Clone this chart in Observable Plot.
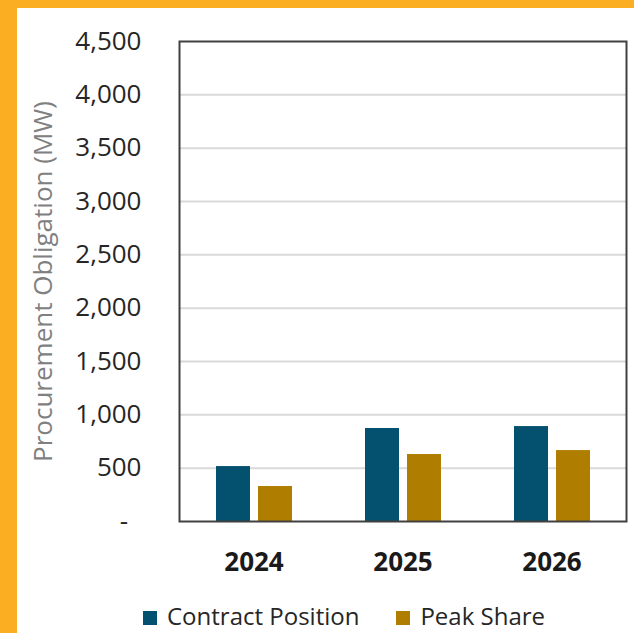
<!DOCTYPE html>
<html>
<head>
<meta charset="utf-8">
<script src="https://cdn.jsdelivr.net/npm/d3@7"></script>
<script src="https://cdn.jsdelivr.net/npm/@observablehq/plot@0.6"></script>
<style>
  html, body { margin: 0; padding: 0; background: #fff; }
  #wrap {
    width: 617px; height: 625px;
    border-top: 8px solid #FBAE22; border-left: 17px solid #FBAE22;
    background: #fff; position: relative; overflow: hidden;
    font-family: "Open Sans", sans-serif;
  }
  #chart svg { display: block; }
  g[aria-label="y-axis label"] text { fill: #808080; font-size: 26px; }
  #legend {
    position: absolute; top: 596px; left: 126px; line-height: 1;
    display: flex; align-items: center; font-size: 24px; color: #262626;
  }
  .item { display: flex; align-items: center; margin-right: 37px; }
  .sw { width: 14px; height: 14px; margin-right: 10px; margin-top: 3px; }
</style>
</head>
<body>
<div id="wrap"><div id="chart"></div><div id="legend"></div></div>
<script>
const years = ["2024", "2025", "2026"];
const series = ["Contract Position", "Peak Share"];
const contractPosition = [515, 872, 890];
const peakShare = [328, 628, 665];
const yTicks = [0, 500, 1000, 1500, 2000, 2500, 3000, 3500, 4000, 4500];
const colors = ["#03506F", "#AF7E00"];

const data = years.flatMap((yr, i) => [
  {year: yr, series: series[0], value: contractPosition[i]},
  {year: yr, series: series[1], value: peakShare[i]}
]);

const fmt = d3.format(",");
const plot = Plot.plot({
  width: 617, height: 590,
  marginLeft: 161, marginRight: 7, marginTop: 33, marginBottom: 77,
  style: {fontFamily: "'Open Sans', sans-serif", fontSize: "24px", color: "#262626", background: "white"},
  fx: {domain: years, padding: 0},
  x: {domain: series, paddingInner: 0.2, paddingOuter: 0.87, axis: null},
  y: {domain: [0, 4500]},
  color: {domain: series, range: colors},
  marks: [
    Plot.gridY(yTicks.filter(d => d > 0 && d < 4500), {stroke: "#d9d9d9", strokeOpacity: 1, strokeWidth: 2}),
    Plot.barY(data, {fx: "year", x: "series", y: "value", fill: "series"}),
    Plot.axisY(yTicks, {
      tickSize: 0, tickPadding: 38, fontSize: 26,
      tickFormat: d => d === 0 ? "-\u00a0\u00a0" : fmt(d),
      label: "Procurement Obligation (MW)", labelAnchor: "center", labelArrow: "none", labelOffset: 146
    }),
    Plot.axisFx({anchor: "bottom", tickSize: 0, tickPadding: 31, fontWeight: "bold", fontSize: 26, fill: "#1a1a1a", label: null}),
    Plot.frame({facet: "super", stroke: "#404040", strokeWidth: 2})
  ]
});
document.getElementById("chart").appendChild(plot);

const legend = d3.select("#legend");
series.forEach((s, i) => {
  const it = legend.append("div").attr("class", "item");
  it.append("div").attr("class", "sw").style("background", colors[i]);
  it.append("span").text(s);
});
</script>
</body>
</html>
